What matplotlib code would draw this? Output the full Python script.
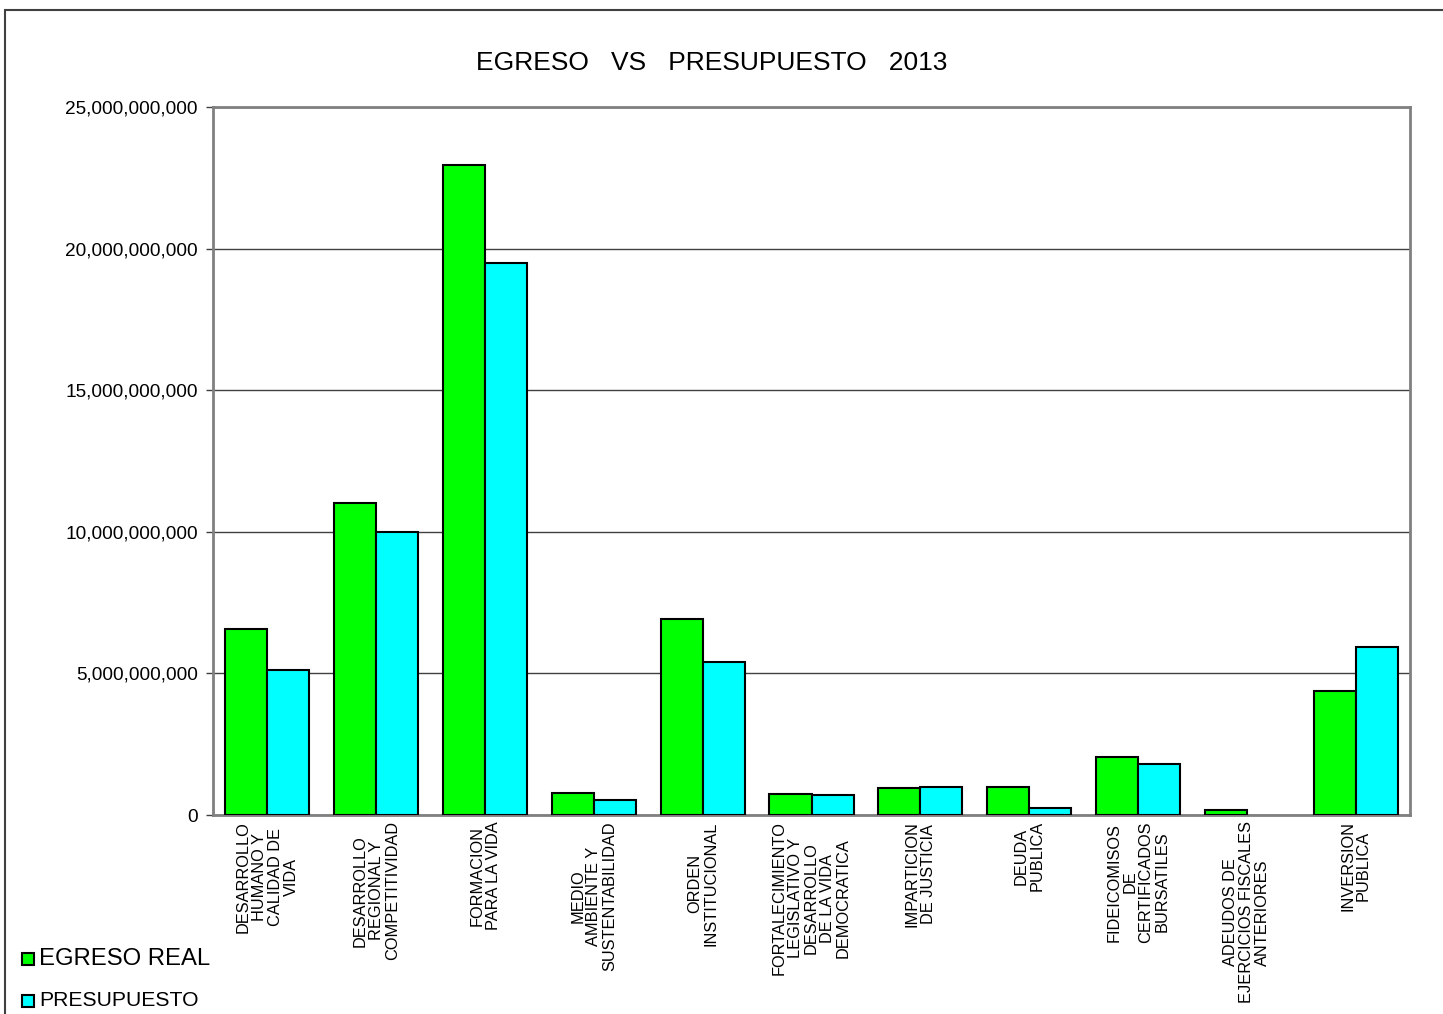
import numpy as np
import matplotlib.pyplot as plt
from matplotlib.patches import Rectangle

plt.rcParams['font.family'] = ['Liberation Sans', 'DejaVu Sans']

categorias = [
    "DESARROLLO\nHUMANO Y\nCALIDAD DE\nVIDA",
    "DESARROLLO\nREGIONAL Y\nCOMPETITIVIDAD",
    "FORMACION\nPARA LA VIDA",
    "MEDIO\nAMBIENTE Y\nSUSTENTABILIDAD",
    "ORDEN\nINSTITUCIONAL",
    "FORTALECIMIENTO\nLEGISLATIVO Y\nDESARROLLO\nDE LA VIDA\nDEMOCRATICA",
    "IMPARTICION\nDE JUSTICIA",
    "DEUDA\nPUBLICA",
    "FIDEICOMISOS\nDE\nCERTIFICADOS\nBURSATILES",
    "ADEUDOS DE\nEJERCICIOS FISCALES\nANTERIORES",
    "INVERSION\nPUBLICA",
]
egreso_real = [6.57e9, 11.02e9, 22.95e9, 0.78e9, 6.92e9, 0.74e9, 0.95e9, 0.99e9, 2.05e9, 0.18e9, 4.38e9]
presupuesto = [5.12e9, 9.99e9, 19.49e9, 0.53e9, 5.40e9, 0.71e9, 0.99e9, 0.25e9, 1.80e9, 0.0, 5.93e9]
yticks = [0, 5e9, 10e9, 15e9, 20e9, 25e9]

verde = '#00ff00'
cian = '#00ffff'

fig = plt.figure(figsize=(14.43, 10.14), dpi=100)
ax = fig.add_axes([213 / 1443, 1 - 815 / 1014, (1410 - 213) / 1443, (815 - 107) / 1014])

x = np.arange(len(categorias))
w = 0.386
ax.bar(x - w / 2, egreso_real, w, color=verde, edgecolor='black',
       linewidth=[1.5 if v > 0 else 0 for v in egreso_real], zorder=3)
ax.bar(x + w / 2, presupuesto, w, color=cian, edgecolor='black',
       linewidth=[1.5 if v > 0 else 0 for v in presupuesto], zorder=3)

ax.set_xlim(-0.5, len(categorias) - 0.5)
ax.set_ylim(0, 25e9)
ax.set_yticks(yticks)
ax.set_yticklabels([f"{int(v):,}" for v in yticks], fontsize=13.7)
ax.yaxis.grid(True, color='#404040', linewidth=1, zorder=0)
ax.tick_params(axis='y', length=5, width=1, color='#404040', pad=6)
ax.set_xticks(x)
ax.set_xticklabels([])
ax.tick_params(axis='x', length=0)
for s in ax.spines.values():
    s.set_color('#808080')
    s.set_linewidth(2)

for i, c in enumerate(categorias):
    ax.text(x[i], -0.009, c, transform=ax.get_xaxis_transform(), rotation=90,
            ha='center', va='top', multialignment='center', fontsize=11.8, linespacing=1.08)

fig.text(712 / 1443, 1 - 63 / 1014, "EGRESO   VS   PRESUPUESTO   2013",
         ha='center', va='center', fontsize=19)

# leyenda
for yy, col, txt, fs in [(959, verde, "EGRESO REAL", 17.2), (1001, cian, "PRESUPUESTO", 15.2)]:
    fig.patches.append(Rectangle((22 / 1443, 1 - (yy + 6) / 1014), 12 / 1443, 12 / 1014,
                                 transform=fig.transFigure, facecolor=col, edgecolor='black', linewidth=1.5))
    fig.text(39 / 1443, 1 - yy / 1014, txt, ha='left', va='center', fontsize=fs)

# marco exterior
fig.patches.append(Rectangle((5 / 1443, -0.01), 1.02, 1 - 10 / 1014 + 0.01, transform=fig.transFigure,
                             fill=False, edgecolor='#404040', linewidth=1.5))

fig.savefig('out.png', dpi=100)
